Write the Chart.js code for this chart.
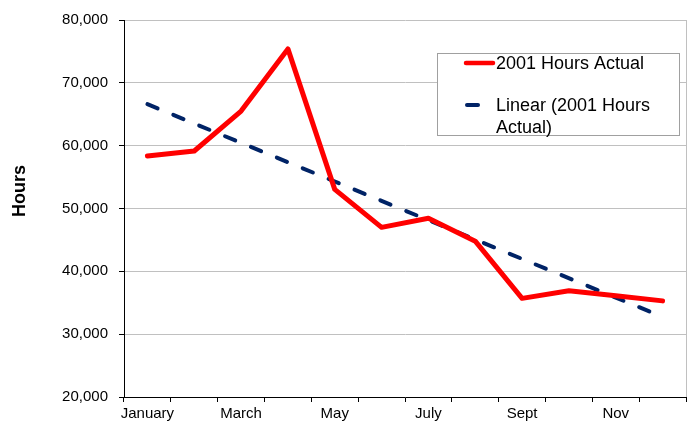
<!DOCTYPE html>
<html>
<head>
<meta charset="utf-8">
<title>2001 Hours Actual</title>
<script src="https://cdn.jsdelivr.net/npm/chart.js@4/dist/chart.umd.min.js"></script>
<style>
  body { margin: 0; background: #fff; }
</style>
</head>
<body>
<canvas id="myChart" width="692" height="424"></canvas>
<script>
// data
const months = ['January', 'February', 'March', 'April', 'May', 'June', 'July', 'August', 'Sept', 'Oct', 'Nov', 'Dec'];
const hoursActual = [58350, 59150, 65500, 75400, 53050, 47000, 48450, 44800, 35700, 36900, 36100, 35300];
// trend line endpoints (Jan, Dec), drawn straight across the gap
const linearTrend = [66600, null, null, null, null, null, null, null, null, null, null, 32750];
const yMin = 20000;
const yMax = 80000;
const yStep = 10000;
const yTitle = 'Hours';

const fontFamily = "'Liberation Sans', Arial, sans-serif";

// legend box inside the plot + axis title, placed like the original
const legendBox = {
	id: 'legendBox',
	afterDatasetsDraw(chart) {
		const ctx = chart.ctx;
		const area = chart.chartArea;
		ctx.save();

		// right edge of plot area
		ctx.strokeStyle = '#c0c0c0';
		ctx.lineWidth = 1;
		ctx.beginPath();
		ctx.moveTo(Math.round(area.right) + 0.5, area.top);
		ctx.lineTo(Math.round(area.right) + 0.5, area.bottom);
		ctx.stroke();

		// y title
		ctx.save();
		ctx.translate(20, 191);
		ctx.rotate(-Math.PI / 2);
		ctx.font = 'bold 18px ' + fontFamily;
		ctx.fillStyle = '#000';
		ctx.textAlign = 'center';
		ctx.textBaseline = 'middle';
		ctx.fillText(yTitle, 0, 0);
		ctx.restore();

		ctx.fillStyle = '#fff';
		ctx.fillRect(437, 53, 242, 82);
		ctx.strokeStyle = '#a0a0a0';
		ctx.strokeRect(437.5, 53.5, 242, 82);

		ctx.font = '18px ' + fontFamily;
		ctx.textBaseline = 'middle';
		ctx.fillStyle = '#000';

		// 2001 Hours Actual
		ctx.strokeStyle = '#ff0000';
		ctx.lineWidth = 4.5;
		ctx.lineCap = 'round';
		ctx.beginPath();
		ctx.moveTo(466, 63);
		ctx.lineTo(493, 63);
		ctx.stroke();
		ctx.fillText(chart.data.datasets[0].label, 496, 64);

		// Linear (2001 Hours Actual)
		ctx.strokeStyle = '#002366';
		ctx.lineWidth = 4;
		ctx.beginPath();
		ctx.moveTo(467, 105);
		ctx.lineTo(478, 105);
		ctx.stroke();
		ctx.fillText('Linear (2001 Hours', 496, 106);
		ctx.fillText('Actual)', 496, 128);

		ctx.restore();
	}
};

const ctx = document.getElementById('myChart');

new Chart(ctx, {
	type: 'line',
	data: {
		labels: months,
		datasets: [
			{
				label: '2001 Hours Actual',
				data: hoursActual,
				borderColor: '#ff0000',
				borderWidth: 5,
				pointRadius: 0,
				tension: 0,
				borderJoinStyle: 'round',
				borderCapStyle: 'round'
			},
			{
				label: 'Linear (2001 Hours Actual)',
				data: linearTrend,
				borderColor: '#002366',
				borderWidth: 4,
				borderDash: [11, 17],
				borderCapStyle: 'round',
				pointRadius: 0,
				spanGaps: true
			}
		]
	},
	options: {
		responsive: false,
		animation: false,
		devicePixelRatio: 1,
		layout: {
			padding: { top: 20, right: 6, left: 0, bottom: 0 }
		},
		plugins: {
			legend: { display: false },
			tooltip: { enabled: false }
		},
		scales: {
			x: {
				offset: true,
				grid: {
					offset: true,
					drawOnChartArea: false,
					tickLength: 5,
					tickColor: '#000'
				},
				border: { color: '#000', width: 1 },
				ticks: {
					autoSkip: false,
					maxRotation: 0,
					padding: 3,
					color: '#000',
					font: { family: fontFamily, size: 15 },
					callback: function (val, i) {
						return i % 2 === 0 ? this.getLabelForValue(val) : '';
					}
				},
				afterFit(scale) {
					scale.height = 27;
				}
			},
			y: {
				min: yMin,
				max: yMax,
				ticks: {
					stepSize: yStep,
					padding: 11,
					color: '#000',
					font: { family: fontFamily, size: 15 }
				},
				grid: {
					color: '#c0c0c0',
					lineWidth: 1,
					tickLength: 5,
					tickColor: '#000'
				},
				border: { color: '#000', width: 1 },
				afterFit(scale) {
					scale.width = 124;
				}
			}
		}
	},
	plugins: [legendBox]
});
</script>
</body>
</html>
